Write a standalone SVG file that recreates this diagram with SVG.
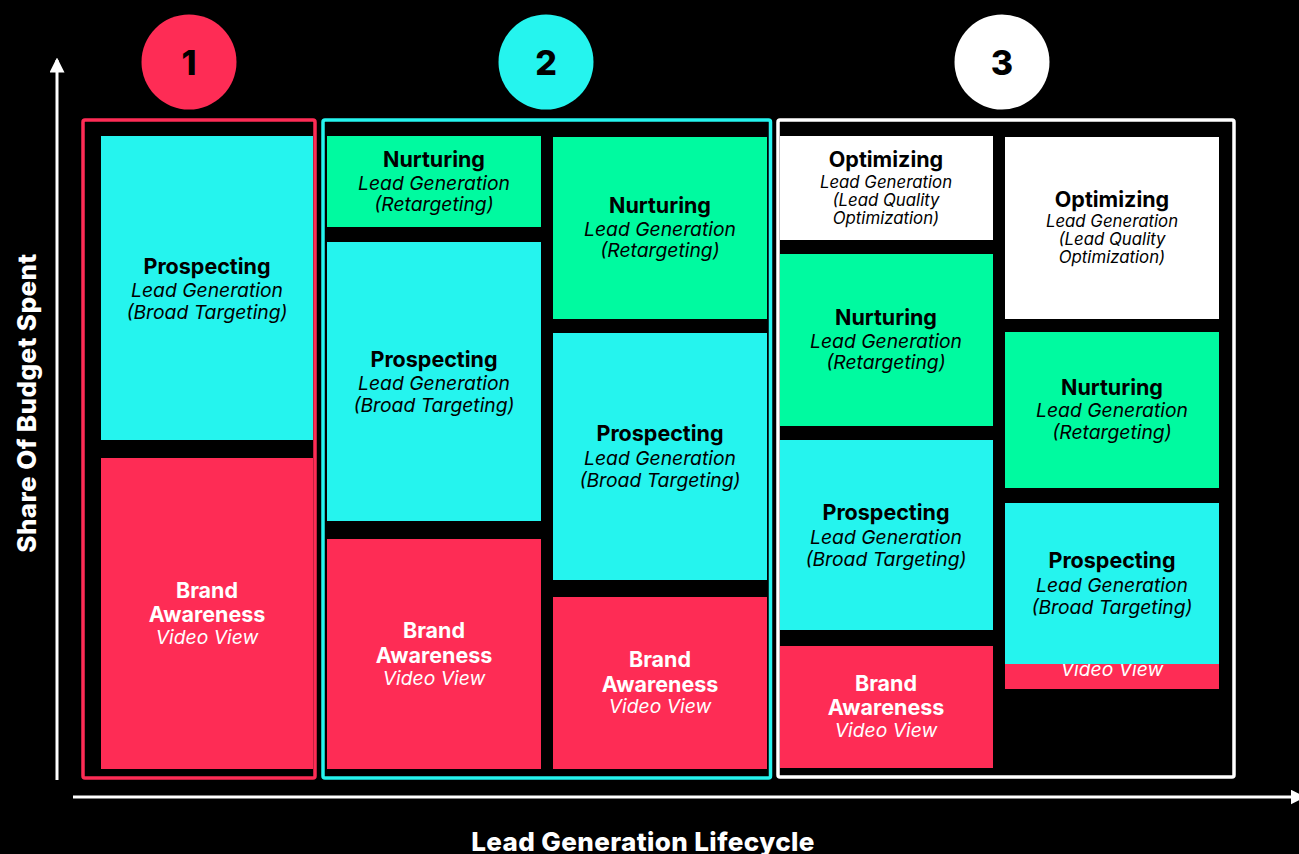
<svg xmlns="http://www.w3.org/2000/svg" width="1299" height="854" viewBox="0 0 1299 854">
  <style>
    .bg { fill: #000000; }
    .red { fill: #FE2C55; }
    .cyan { fill: #25F4EE; }
    .green { fill: #00FAA0; }
    .white { fill: #FFFFFF; }
    .frame { fill: none; stroke-width: 3.5; }
    .axis { stroke: #FFFFFF; stroke-width: 3; fill: none; }
    text { font-family: Inter, "Liberation Sans", sans-serif; text-anchor: middle; }
    .t { font-weight: 700; font-size: 21.5px; fill: #000000; }
    .s { font-style: italic; font-size: 19.3px; fill: #000000; }
    .ss { font-style: italic; font-size: 16.8px; fill: #000000; }
    .tw { font-weight: 700; font-size: 21.5px; fill: #FFFFFF; }
    .sw { font-style: italic; font-size: 19.3px; fill: #FFFFFF; }
    .num { font-weight: 800; font-size: 34px; fill: #000000; }
    .lbl { font-weight: 800; font-size: 26px; letter-spacing: 0.4px; fill: #FFFFFF; }
  </style>
  <defs>
    <marker id="arrow" viewBox="0 0 12 12" refX="10" refY="6" markerWidth="5" markerHeight="5" markerUnits="strokeWidth" orient="auto">
      <path d="M0,0 L12,6 L0,12 Z" fill="#FFFFFF"/>
    </marker>
  </defs>

  <rect class="bg" x="0" y="0" width="1299" height="854"/>

  <!-- axes -->
  <g id="connectors">
    <line class="axis" x1="57" y1="780" x2="57" y2="60" marker-end="url(#arrow)"/>
    <line class="axis" x1="73" y1="797" x2="1303" y2="797" marker-end="url(#arrow)"/>
  </g>

  <text class="lbl" x="643" y="851">Lead Generation Lifecycle</text>
  <text class="lbl" transform="translate(36,403) rotate(-90)">Share Of Budget Spent</text>

  <!-- stage badges -->
  <g id="badge-1">
    <circle class="red" cx="189" cy="62" r="47.5"/>
    <text class="num" x="189" y="75">1</text>
  </g>
  <g id="badge-2">
    <circle class="cyan" cx="546" cy="62" r="47.5"/>
    <text class="num" x="546" y="75">2</text>
  </g>
  <g id="badge-3">
    <circle class="white" cx="1002" cy="62" r="47.5"/>
    <text class="num" x="1002" y="75">3</text>
  </g>

  <!-- stage frames -->
  <g id="stage-1">
    <rect class="frame" x="83" y="120" width="232" height="658" rx="2" stroke="#FE2C55"/>
  </g>
  <g id="stage-2">
    <rect class="frame" x="323" y="120" width="447.5" height="658" rx="2" stroke="#25F4EE"/>
  </g>
  <g id="stage-3">
    <rect class="frame" x="778" y="120" width="456" height="657" rx="2" stroke="#FFFFFF"/>
  </g>

  <!-- stage 1 -->
  <g id="s1-prospecting">
    <rect class="cyan" x="101" y="136" width="212" height="304"/>
    <text class="t" x="207" y="274">Prospecting</text>
    <text class="s" x="207" y="297">Lead Generation</text>
    <text class="s" x="207" y="319">(Broad Targeting)</text>
  </g>
  <g id="s1-brand">
    <rect class="red" x="101" y="458" width="212" height="311"/>
    <text class="tw" x="207" y="598">Brand</text>
    <text class="tw" x="207" y="622">Awareness</text>
    <text class="sw" x="207" y="644">Video View</text>
  </g>

  <!-- stage 2, left column -->
  <g id="s2a-nurturing">
    <rect class="green" x="327" y="136" width="214" height="91"/>
    <text class="t" x="434" y="167">Nurturing</text>
    <text class="s" x="434" y="190">Lead Generation</text>
    <text class="s" x="434" y="211">(Retargeting)</text>
  </g>
  <g id="s2a-prospecting">
    <rect class="cyan" x="327" y="242" width="214" height="279"/>
    <text class="t" x="434" y="367">Prospecting</text>
    <text class="s" x="434" y="390">Lead Generation</text>
    <text class="s" x="434" y="412">(Broad Targeting)</text>
  </g>
  <g id="s2a-brand">
    <rect class="red" x="327" y="539" width="214" height="230"/>
    <text class="tw" x="434" y="638">Brand</text>
    <text class="tw" x="434" y="663">Awareness</text>
    <text class="sw" x="434" y="685">Video View</text>
  </g>

  <!-- stage 2, right column -->
  <g id="s2b-nurturing">
    <rect class="green" x="553" y="137" width="214" height="182"/>
    <text class="t" x="660" y="213">Nurturing</text>
    <text class="s" x="660" y="236">Lead Generation</text>
    <text class="s" x="660" y="257">(Retargeting)</text>
  </g>
  <g id="s2b-prospecting">
    <rect class="cyan" x="553" y="333" width="214" height="247"/>
    <text class="t" x="660" y="441">Prospecting</text>
    <text class="s" x="660" y="465">Lead Generation</text>
    <text class="s" x="660" y="487">(Broad Targeting)</text>
  </g>
  <g id="s2b-brand">
    <rect class="red" x="553" y="597" width="214" height="172"/>
    <text class="tw" x="660" y="667">Brand</text>
    <text class="tw" x="660" y="692">Awareness</text>
    <text class="sw" x="660" y="713">Video View</text>
  </g>

  <!-- stage 3, left column -->
  <g id="s3a-optimizing">
    <rect class="white" x="780" y="136" width="213" height="104"/>
    <text class="t" x="886" y="167">Optimizing</text>
    <text class="ss" x="886" y="188">Lead Generation</text>
    <text class="ss" x="886" y="206">(Lead Quality</text>
    <text class="ss" x="886" y="224">Optimization)</text>
  </g>
  <g id="s3a-nurturing">
    <rect class="green" x="780" y="254" width="213" height="172"/>
    <text class="t" x="886" y="325">Nurturing</text>
    <text class="s" x="886" y="348">Lead Generation</text>
    <text class="s" x="886" y="369">(Retargeting)</text>
  </g>
  <g id="s3a-prospecting">
    <rect class="cyan" x="780" y="440" width="213" height="190"/>
    <text class="t" x="886" y="520">Prospecting</text>
    <text class="s" x="886" y="544">Lead Generation</text>
    <text class="s" x="886" y="566">(Broad Targeting)</text>
  </g>
  <g id="s3a-brand">
    <rect class="red" x="780" y="646" width="213" height="122"/>
    <text class="tw" x="886" y="691">Brand</text>
    <text class="tw" x="886" y="715">Awareness</text>
    <text class="sw" x="886" y="737">Video View</text>
  </g>

  <!-- stage 3, right column -->
  <g id="s3b-optimizing">
    <rect class="white" x="1005" y="137" width="214" height="182"/>
    <text class="t" x="1112" y="207">Optimizing</text>
    <text class="ss" x="1112" y="227">Lead Generation</text>
    <text class="ss" x="1112" y="245">(Lead Quality</text>
    <text class="ss" x="1112" y="263">Optimization)</text>
  </g>
  <g id="s3b-nurturing">
    <rect class="green" x="1005" y="332" width="214" height="156"/>
    <text class="t" x="1112" y="395">Nurturing</text>
    <text class="s" x="1112" y="417">Lead Generation</text>
    <text class="s" x="1112" y="439">(Retargeting)</text>
  </g>
  <!-- brand strip sits under the prospecting block, which overlaps its label -->
  <g id="s3b-brand">
    <rect class="red" x="1005" y="650" width="214" height="39"/>
    <text class="sw" x="1112" y="676">Video View</text>
  </g>
  <g id="s3b-prospecting">
    <rect class="cyan" x="1005" y="503" width="214" height="161"/>
    <text class="t" x="1112" y="568">Prospecting</text>
    <text class="s" x="1112" y="592">Lead Generation</text>
    <text class="s" x="1112" y="614">(Broad Targeting)</text>
  </g>
</svg>
